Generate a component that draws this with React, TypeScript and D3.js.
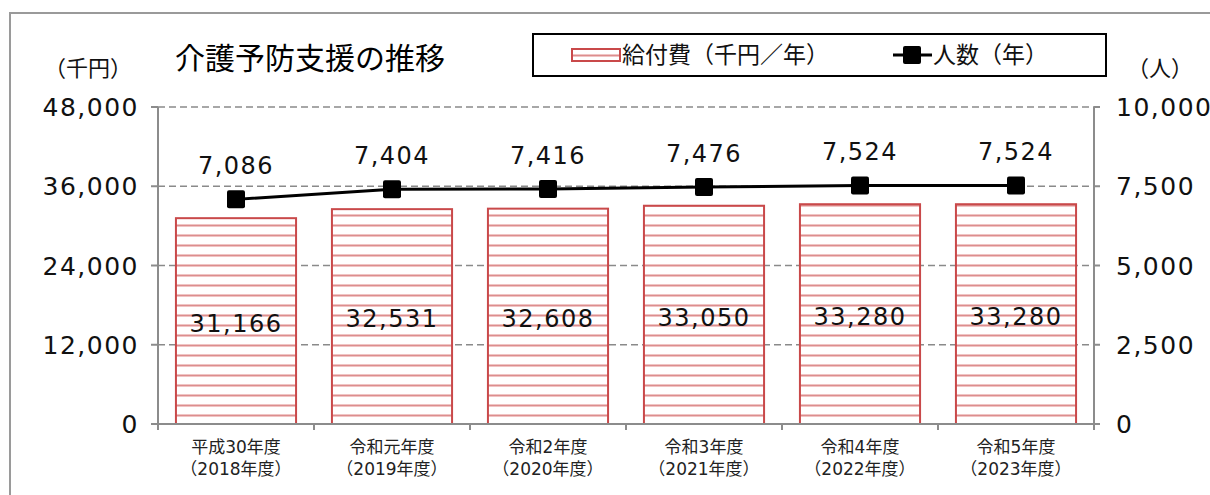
import React from "react";
import * as d3 from "d3";

const categoriesLine1 = ["平成30年度", "令和元年度", "令和2年度", "令和3年度", "令和4年度", "令和5年度"];
const categoriesLine2 = ["（2018年度）", "（2019年度）", "（2020年度）", "（2021年度）", "（2022年度）", "（2023年度）"];
const benefits = [31166, 32531, 32608, 33050, 33280, 33280];
const people = [7086, 7404, 7416, 7476, 7524, 7524];
const leftTicks = [0, 12000, 24000, 36000, 48000];
const rightTicks = [0, 2500, 5000, 7500, 10000];

const FONT = "'DejaVu Sans', 'Noto Sans CJK JP', sans-serif";
const CJK = "'Noto Sans CJK JP', 'Noto Sans', sans-serif";

export default function App() {
  const W = 1210, H = 495;
  const left = 158, right = 1094, top = 107, bottom = 424;
  const x = d3.scaleBand<number>().domain(d3.range(6)).range([left, right]).paddingInner(0.23).paddingOuter(0.115);
  const xc = d3.scaleBand<number>().domain(d3.range(6)).range([left, right]);
  const yL = d3.scaleLinear().domain([0, 48000]).range([bottom, top]);
  const yR = d3.scaleLinear().domain([0, 10000]).range([bottom, top]);
  const fmt = d3.format(",");
  const line = d3.line<number>().x((_, i) => xc(i)! + xc.bandwidth() / 2).y((d) => yR(d));
  const axisColor = "#8c8c8c";
  const barStroke = "#c9494a";
  const numStyle = { letterSpacing: "1.5px" } as React.CSSProperties;

  return (
    <svg width={W} height={H} style={{ position: "fixed", left: 0, top: 0, background: "#fff" }} fontFamily={FONT}>
      <defs>
        <pattern id="stripes" patternUnits="userSpaceOnUse" width={10} height={10} y={0}>
          <rect x={0} y={0} width={10} height={10} fill="#fff" />
          <rect x={0} y={4} width={10} height={3} fill="#f0c4c4" />
          <rect x={0} y={5} width={10} height={1} fill="#dc8e8e" />
        </pattern>
      </defs>
      <rect x={10} y={13} width={1220} height={520} fill="#fff" stroke="#9a9a9a" strokeWidth={2} />

      {/* grid lines */}
      {leftTicks.filter((t) => t > 0).map((t) => (
        <line key={t} x1={left} x2={right} y1={yL(t)} y2={yL(t)} stroke="#8a8a8a" strokeWidth={1.5} strokeDasharray="7,4" />
      ))}

      {/* bars */}
      {benefits.map((v, i) => (
        <rect key={i} x={x(i)} y={yL(v)} width={x.bandwidth()} height={bottom - yL(v)} fill="url(#stripes)" stroke={barStroke} strokeWidth={2} />
      ))}

      {/* axes */}
      <line x1={left} x2={left} y1={top} y2={bottom} stroke={axisColor} strokeWidth={2} />
      <line x1={right} x2={right} y1={top} y2={bottom + 5} stroke={axisColor} strokeWidth={2} />
      <line x1={left} x2={right + 6} y1={bottom} y2={bottom} stroke={axisColor} strokeWidth={2} />
      {leftTicks.map((t) => (
        <line key={"lt" + t} x1={left - 7} x2={left} y1={yL(t)} y2={yL(t)} stroke={axisColor} strokeWidth={2} />
      ))}
      {rightTicks.map((t) => (
        <line key={"rt" + t} x1={right} x2={right + 6} y1={yR(t)} y2={yR(t)} stroke={axisColor} strokeWidth={2} />
      ))}
      {d3.range(7).map((i) => {
        const xx = i < 6 ? xc(i)! : right;
        return <line key={"xt" + i} x1={xx} x2={xx} y1={bottom} y2={bottom + 6} stroke={axisColor} strokeWidth={2} />;
      })}

      {/* tick labels */}
      {leftTicks.map((t) => (
        <text key={"ll" + t} x={139} y={yL(t)} dy="0.36em" textAnchor="end" fontSize={25} fill="#111" style={numStyle}>{fmt(t)}</text>
      ))}
      {rightTicks.map((t) => (
        <text key={"rl" + t} x={1116} y={yR(t)} dy="0.36em" textAnchor="start" fontSize={25} fill="#111" style={numStyle}>{fmt(t)}</text>
      ))}

      {/* category labels */}
      {categoriesLine1.map((c, i) => (
        <g key={"c" + i}>
          <text x={xc(i)! + xc.bandwidth() / 2} y={447} dy="0.36em" textAnchor="middle" fontSize={17} fill="#222">{c}</text>
          <text x={xc(i)! + xc.bandwidth() / 2} y={469} dy="0.36em" textAnchor="middle" fontSize={17} fill="#222">{categoriesLine2[i]}</text>
        </g>
      ))}

      {/* bar value labels */}
      {benefits.map((v, i) => (
        <text key={"bv" + i} x={x(i)! + x.bandwidth() / 2} y={(yL(v) + bottom) / 2 + 2} dy="0.36em" textAnchor="middle" fontSize={24} fill="#111" style={numStyle}>{fmt(v)}</text>
      ))}

      {/* line */}
      <path d={line(people) || ""} fill="none" stroke="#000" strokeWidth={3} />
      {people.map((v, i) => (
        <rect key={"m" + i} x={xc(i)! + xc.bandwidth() / 2 - 9} y={yR(v) - 9} width={18} height={18} rx={2} fill="#000" />
      ))}
      {people.map((v, i) => (
        <text key={"pv" + i} x={xc(i)! + xc.bandwidth() / 2} y={yR(v) - 34} dy="0.36em" textAnchor="middle" fontSize={24} fill="#111" style={numStyle}>{fmt(v)}</text>
      ))}

      {/* titles */}
      <text x={88} y={68} dy="0.36em" textAnchor="middle" fontSize={22} fill="#111" fontFamily={CJK}>（千円）</text>
      <text x={175} y={58} dy="0.36em" textAnchor="start" fontSize={30} fontWeight={400} fill="#000" fontFamily={CJK}>介護予防支援の推移</text>
      <text x={1160} y={68} dy="0.36em" textAnchor="middle" fontSize={22} fill="#111" fontFamily={CJK}>（人）</text>

      {/* legend */}
      <rect x={533} y={34} width={573} height={42} fill="#fff" stroke="#000" strokeWidth={2} />
      <rect x={572} y={49} width={48} height={12} fill="url(#stripes)" stroke={barStroke} strokeWidth={2} />
      <text x={622} y={55} dy="0.36em" textAnchor="start" fontSize={23} fill="#111" fontFamily={CJK}>給付費（千円／年）</text>
      <line x1={893} x2={932} y1={55} y2={55} stroke="#000" strokeWidth={3} />
      <rect x={903} y={46} width={18} height={18} rx={2} fill="#000" />
      <text x={933} y={55} dy="0.36em" textAnchor="start" fontSize={23} fill="#111" fontFamily={CJK}>人数（年）</text>
    </svg>
  );
}
